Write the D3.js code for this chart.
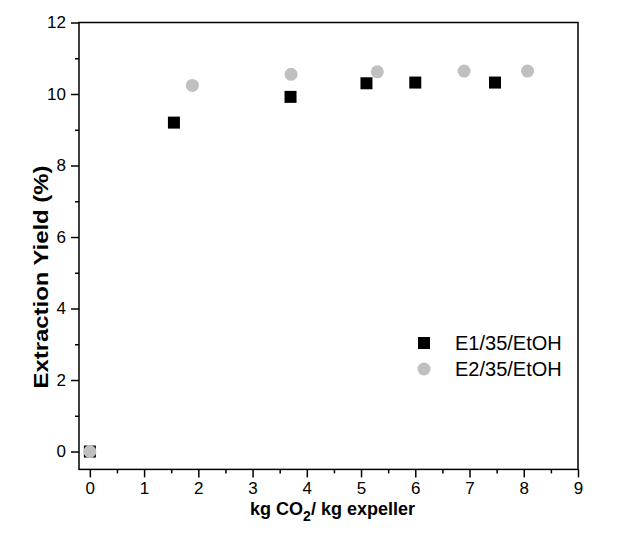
<!DOCTYPE html>
<html><head><meta charset="utf-8">
<script src="https://cdn.jsdelivr.net/npm/d3@7"></script>
<style>body{margin:0;background:#fff}svg{display:block;font-family:Arial,"Liberation Sans",sans-serif}</style>
</head><body><svg id="c" width="644" height="543"></svg>
<script>
const seriesNames = ["E1/35/EtOH", "E2/35/EtOH"];
const e1X = [0, 1.55, 3.70, 5.10, 6.00, 7.47];
const e1Y = [0, 9.20, 9.92, 10.30, 10.32, 10.32];
const e2X = [0, 1.89, 3.71, 5.30, 6.90, 8.07];
const e2Y = [0, 10.24, 10.55, 10.62, 10.64, 10.64];
const xTicks = [0,1,2,3,4,5,6,7,8,9];
const yTicks = [0,2,4,6,8,10,12];

const svg = d3.select("#c");
const L=79, R=578, T=22.5, B=469.4;
const x = d3.scaleLinear().domain([-0.2, 9]).range([L, R]);
const y = d3.scaleLinear().domain([-0.5, 12]).range([B, T]);

svg.append("rect").attr("x",L).attr("y",T).attr("width",R-L).attr("height",B-T)
  .attr("fill","none").attr("stroke","#000").attr("stroke-width",1.5);

const xAxis = svg.append("g").attr("transform",`translate(0,${B})`)
  .call(d3.axisBottom(x).tickValues(xTicks).tickFormat(d3.format("d")).tickSize(8).tickPadding(5));
const xMinor = svg.append("g").attr("transform",`translate(0,${B})`)
  .call(d3.axisBottom(x).tickValues(d3.range(0.5,9,1)).tickFormat("").tickSize(4));
const yAxis = svg.append("g").attr("transform",`translate(${L},0)`)
  .call(d3.axisLeft(y).tickValues(yTicks).tickFormat(d3.format("d")).tickSize(8).tickPadding(5));
const yMinor = svg.append("g").attr("transform",`translate(${L},0)`)
  .call(d3.axisLeft(y).tickValues(d3.range(1,12,2)).tickFormat("").tickSize(4));
[xAxis,xMinor,yAxis,yMinor].forEach(g=>{
  g.select(".domain").remove();
  g.selectAll("line").attr("stroke","#000").attr("stroke-width",1.5);
  g.selectAll("text").attr("font-size",17).attr("fill","#000").attr("font-family","Arial, 'Liberation Sans', sans-serif");
});

const xt = svg.append("text").attr("x",(L+R)/2+4).attr("y",515).attr("text-anchor","middle")
  .attr("font-size",18).attr("font-weight","bold");
xt.append("tspan").text("kg CO");
xt.append("tspan").attr("font-size",14).attr("dy",6).text("2");
xt.append("tspan").attr("dy",-6).text("/ kg expeller");
svg.append("text").attr("transform",`translate(48,277) rotate(-90)`).attr("text-anchor","middle")
  .attr("font-size",21).attr("font-weight","bold")
  .attr("textLength",223).attr("lengthAdjust","spacingAndGlyphs").text("Extraction Yield (%)");

const s=12, r=6.5;
const e2 = e2X.map((v,i)=>({x:v,y:e2Y[i]}));
const e1 = e1X.map((v,i)=>({x:v,y:e1Y[i]}));
svg.append("g").selectAll("rect").data(e1).join("rect")
  .attr("x",d=>x(d.x)-s/2).attr("y",d=>y(d.y)-s/2).attr("width",s).attr("height",s).attr("fill","#000");
svg.append("g").selectAll("circle").data(e2).join("circle")
  .attr("cx",d=>x(d.x)).attr("cy",d=>y(d.y)).attr("r",r).attr("fill","#c0c0c0");

const lg = svg.append("g");
lg.append("rect").attr("x",424-s/2).attr("y",343-s/2).attr("width",s).attr("height",s).attr("fill","#000");
lg.append("circle").attr("cx",424).attr("cy",369).attr("r",r).attr("fill","#c0c0c0");
lg.append("text").attr("x",455).attr("y",350).attr("font-size",20).text(seriesNames[0]);
lg.append("text").attr("x",455).attr("y",376).attr("font-size",20).text(seriesNames[1]);
</script></body></html>
